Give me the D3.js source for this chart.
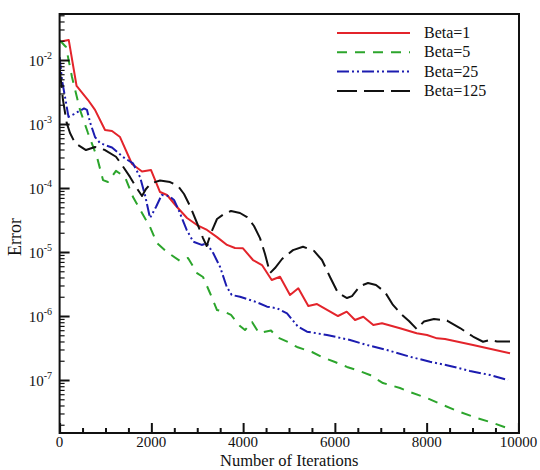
<!DOCTYPE html>
<html>
<head>
<meta charset="utf-8">
<script src="https://cdn.jsdelivr.net/npm/d3@7"></script>
<style>
  html, body { margin: 0; padding: 0; background: #fff; }
  svg { display: block; }
  text { font-family: "Liberation Serif", "Times New Roman", serif; fill: #111; }
</style>
</head>
<body>
<svg id="chart" width="540" height="470"></svg>
<script>
// ---- data (iteration, error) ----
const seriesNames = ["Beta=1", "Beta=5", "Beta=25", "Beta=125"];

const beta1 = [
  [0,1.93e-2],[200,2.05e-2],[370,3.93e-3],[620,2.37e-3],[772,1.66e-3],[990,8.06e-4],[1142,7.78e-4],
  [1317,6.26e-4],[1578,2.37e-4],[1796,1.81e-4],[1993,1.91e-4],[2189,8.66e-5],[2341,7.78e-5],
  [2559,5.05e-5],[2777,3.40e-5],[2995,2.64e-5],[3213,2.21e-5],[3431,1.71e-5],[3649,1.29e-5],
  [3823,1.155e-5],[3997,1.14e-5],[4215,7.5e-6],[4411,6.26e-6],[4623,3.65e-6],[4804,4.11e-6],
  [5022,2.13e-6],[5203,2.71e-6],[5421,1.43e-6],[5611,1.54e-6],[6068,1.0e-6],[6258,1.17e-6],
  [6439,8.66e-7],[6620,9.75e-7],[6838,7.23e-7],[7027,7.69e-7],[7419,6.43e-7],[7783,5.37e-7],
  [8008,5.05e-7],[8226,4.48e-7],[8400,4.37e-7],[9011,3.52e-7],[9817,2.61e-7]
];

const beta5 = [
  [0,2.05e-2],[140,1.60e-2],[270,5.42e-3],[445,1.66e-3],[619,7.23e-4],[815,3.05e-4],[946,1.33e-4],
  [1055,1.24e-4],[1229,1.85e-4],[1426,1.49e-4],[1600,7.23e-5],[1796,4.07e-5],[1971,2.46e-5],
  [2123,1.38e-5],[2341,1.0e-5],[2624,7.23e-6],[2799,8.06e-6],[2995,4.69e-6],[3126,4.07e-6],
  [3278,2.29e-6],[3431,1.24e-6],[3605,1.155e-6],[3736,1.04e-6],[3932,6.98e-7],[4041,6.04e-7],
  [4194,8.06e-7],[4346,5.42e-7],[4608,5.93e-7],[4739,4.69e-7],[4978,3.92e-7],[5174,3.28e-7],
  [5501,2.74e-7],[5719,2.29e-7],[6002,1.91e-7],[6264,1.60e-7],[6482,1.43e-7],[6765,1.20e-7],
  [7048,8.97e-8],[7419,7.5e-8],[7637,6.49e-8],[8008,5.23e-8],[8357,4.07e-8],[8727,3.16e-8],
  [9098,2.55e-8],[9447,2.13e-8],[9817,1.72e-8]
];

const beta25 = [
  [0,1.11e-2],[52,4.87e-3],[118,2.64e-3],[194,1.29e-3],[314,1.43e-3],[532,1.75e-3],[597,1.66e-3],
  [663,1.07e-3],[772,6.26e-4],[881,5.05e-4],[990,4.69e-4],[1142,4.29e-4],[1382,3.05e-4],
  [1600,2.42e-4],[1752,1.49e-4],[1861,7.78e-5],[1971,3.40e-5],[2101,5.05e-5],[2225,7.78e-5],
  [2385,7.5e-5],[2494,6.49e-5],[2587,4.69e-5],[2770,2.21e-5],[2914,1.45e-5],[3097,1.29e-5],
  [3206,1.37e-5],[3350,9.55e-6],[3496,5.89e-6],[3642,2.87e-6],[3751,2.13e-6],[3932,2.0e-6],
  [4281,1.66e-6],[4521,1.40e-6],[4739,1.32e-6],[4957,1.10e-6],[5196,6.81e-7],[5392,5.69e-7],
  [5828,5.05e-7],[6330,4.22e-7],[6700,3.52e-7],[7136,2.94e-7],[7637,2.31e-7],[8073,1.93e-7],
  [8509,1.66e-7],[8945,1.38e-7],[9381,1.20e-7],[9774,1.0e-7]
];

const beta125 = [
  [0,7.5e-3],[74,2.37e-3],[155,1.04e-3],[227,7.23e-4],[336,5.05e-4],[575,3.92e-4],[772,4.37e-4],
  [990,3.92e-4],[1229,3.08e-4],[1360,2.29e-4],[1534,1.49e-4],[1665,1.04e-4],[1796,7.5e-5],
  [1883,9.65e-5],[1992,1.18e-4],[2189,1.31e-4],[2407,1.24e-4],[2581,1.07e-4],[2712,8.06e-5],
  [2842,5.23e-5],[2995,2.84e-5],[3126,1.65e-5],[3206,1.24e-5],[3300,1.98e-5],[3431,3.28e-5],
  [3583,3.92e-5],[3736,4.37e-5],[3932,4.07e-5],[4085,3.52e-5],[4237,2.55e-5],[4368,1.65e-5],
  [4477,9.3e-6],[4586,4.69e-6],[4695,5.62e-6],[4848,7.78e-6],[5087,1.07e-5],[5305,1.21e-5],
  [5545,1.04e-5],[5719,7.5e-6],[5894,4.07e-6],[6068,2.29e-6],[6264,1.91e-6],[6373,2.05e-6],
  [6548,2.94e-6],[6722,3.28e-6],[6896,3.05e-6],[7092,2.37e-6],[7266,1.49e-6],[7463,1.04e-6],
  [7615,8.35e-7],[7783,6.26e-7],[7942,8.2e-7],[8160,8.97e-7],[8444,8.5e-7],[8727,6.49e-7],
  [9011,4.78e-7],[9229,3.96e-7],[9381,4.22e-7],[9534,4.0e-7],[9817,4.0e-7]
];

const xTickValues = [0, 2000, 4000, 6000, 8000, 10000];
const xTickLabels = ["0", "2000", "4000", "6000", "8000", "10000"];
const yTickExponents = [-2, -3, -4, -5, -6, -7];
const xLabel = "Number of Iterations";
const yLabel = "Error";

// ---- styles ----
const styles = [
  { color: "#e3242b", dash: null },
  { color: "#2ca52c", dash: "10,8" },
  { color: "#1c1cb0", dash: "12,3,2,3,2,3" },
  { color: "#111111", dash: "20,7" }
];
const allSeries = [beta1, beta5, beta25, beta125];

const svg = d3.select("#chart");
const L = 59.6, R = 519, T = 14, B = 433;

const x = d3.scaleLinear().domain([0, 10000]).range([L, 518.4]);
const y = d3.scaleLog().domain([Math.pow(10, -7.828), Math.pow(10, -1.281)]).range([B, T]);

// clip
svg.append("clipPath").attr("id", "clip").append("rect")
  .attr("x", L).attr("y", T).attr("width", R - L).attr("height", B - T);

// lines
const line = d3.line().x(d => x(d[0])).y(d => y(d[1]));
const gLines = svg.append("g").attr("clip-path", "url(#clip)");
allSeries.forEach((s, i) => {
  gLines.append("path").datum(s)
    .attr("d", line)
    .attr("fill", "none")
    .attr("stroke", styles[i].color)
    .attr("stroke-width", 2)
    .attr("stroke-dasharray", styles[i].dash)
    .attr("stroke-linejoin", "round");
});

// x axis ticks (inside)
const xMinor = d3.range(0, 10001, 500).filter(v => v % 2000 !== 0);
const xAxisMajor = d3.axisBottom(x).tickValues(xTickValues).tickSize(-10).tickFormat("");
const xAxisMinor = d3.axisBottom(x).tickValues(xMinor).tickSize(-5).tickFormat("");
[xAxisMinor, xAxisMajor].forEach(ax => {
  const g = svg.append("g").attr("transform", `translate(0,${B})`).call(ax);
  g.select(".domain").remove();
  g.selectAll("line").attr("stroke", "#111").attr("stroke-width", 2);
});
// x tick labels
svg.append("g").selectAll("text").data(xTickValues).join("text")
  .attr("x", d => x(d)).attr("y", 447)
  .attr("text-anchor", "middle").attr("font-size", 15)
  .text((d, i) => xTickLabels[i]);

// y axis ticks (inside)
const yMajorVals = yTickExponents.map(e => Math.pow(10, e));
const yMinorVals = [];
for (let e = -8; e <= -2; e++) for (let m = 2; m <= 9; m++) {
  const v = m * Math.pow(10, e);
  if (v >= y.domain()[0] && v <= y.domain()[1]) yMinorVals.push(v);
}
const yAxisMajor = d3.axisLeft(y).tickValues(yMajorVals).tickSize(-10).tickFormat("");
const yAxisMinor = d3.axisLeft(y).tickValues(yMinorVals).tickSize(-5).tickFormat("");
[yAxisMinor, yAxisMajor].forEach((ax, k) => {
  const g = svg.append("g").attr("transform", `translate(${L},0)`).call(ax);
  g.select(".domain").remove();
  g.selectAll("line").attr("stroke", "#111").attr("stroke-width", k ? 2 : 1.2);
});
// y tick labels 10^e
const yl = svg.append("g").selectAll("text").data(yTickExponents).join("text")
  .attr("x", 52).attr("y", e => y(Math.pow(10, e)) + 6)
  .attr("text-anchor", "end").attr("font-size", 15);
yl.append("tspan").text("10");
yl.append("tspan").attr("dy", -7).attr("font-size", 10).text(e => String(e));

// frame
svg.append("rect").attr("x", L).attr("y", T).attr("width", R - L).attr("height", B - T)
  .attr("fill", "none").attr("stroke", "#111").attr("stroke-width", 2);

// axis titles
svg.append("text").attr("x", (L + R) / 2).attr("y", 465.5).attr("text-anchor", "middle")
  .attr("font-size", 16.5).text(xLabel);
svg.append("text").attr("transform", `translate(21,${237}) rotate(-90)`)
  .attr("text-anchor", "middle").attr("font-size", 18).text(yLabel);

// legend
const leg = svg.append("g");
seriesNames.forEach((n, i) => {
  const yy = 33 + i * 19.3;
  leg.append("line").attr("x1", 337).attr("x2", 410).attr("y1", yy).attr("y2", yy)
    .attr("stroke", styles[i].color).attr("stroke-width", 2)
    .attr("stroke-dasharray", styles[i].dash);
  leg.append("text").attr("x", 424).attr("y", yy + 5).attr("font-size", 16).text(n);
});
</script>
</body>
</html>
